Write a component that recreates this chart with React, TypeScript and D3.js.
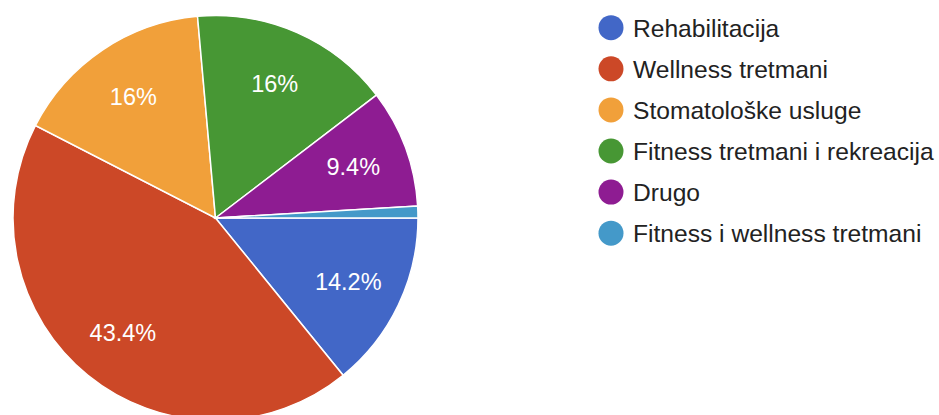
import React from "react";
import * as d3 from "d3";

const categories = [
  "Rehabilitacija",
  "Wellness tretmani",
  "Stomatološke usluge",
  "Fitness tretmani i rekreacija",
  "Drugo",
  "Fitness i wellness tretmani",
];
const counts = [15, 46, 17, 17, 10, 1];
const pctLabels = ["14.2%", "43.4%", "16%", "16%", "9.4%", ""];
const colors = ["#4267c7", "#cc4827", "#f1a03a", "#479734", "#8e1c92", "#4499c9"];

const W = 939;
const H = 415;
const cx = 215.5;
const cy = 218;
const R = 202.5;
const labelR = 147;
const legendX = 611;
const legendY0 = 27.7;
const legendStep = 41.1;

export default function App() {
  const data = categories.map((c, i) => ({ c, v: counts[i], label: pctLabels[i], color: colors[i] }));
  const pie = d3
    .pie<any>()
    .value((d) => d.v)
    .sort(null)
    .startAngle(Math.PI / 2)
    .endAngle(Math.PI / 2 + 2 * Math.PI);
  const arcs = pie(data);
  const arc = d3.arc<any>().innerRadius(0).outerRadius(R);
  const labelArc = d3.arc<any>().innerRadius(labelR).outerRadius(labelR);
  const font = "Arial, 'Liberation Sans', Helvetica, sans-serif";

  return (
    <svg
      width={W}
      height={H}
      style={{ position: "absolute", left: 0, top: 0, background: "#fff" }}
    >
      <g transform={`translate(${cx},${cy})`}>
        {arcs.map((a, i) => (
          <path key={i} d={arc(a) || ""} fill={a.data.color} stroke="#fff" strokeWidth={1.5} />
        ))}
        {arcs.map((a, i) => {
          if (!a.data.label) return null;
          const [x, y] = labelArc.centroid(a);
          return (
            <text
              key={"l" + i}
              x={x}
              y={y}
              dy="0.36em"
              textAnchor="middle"
              fill="#fff"
              fontFamily={font}
              fontSize={23.5}
            >
              {a.data.label}
            </text>
          );
        })}
      </g>
      <g>
        {data.map((d, i) => (
          <g key={"lg" + i} transform={`translate(${legendX},${legendY0 + i * legendStep})`}>
            <circle r={12.5} fill={d.color} />
            <text x={22} dy="0.36em" fill="#222" fontFamily={font} fontSize={24.6}>
              {d.c}
            </text>
          </g>
        ))}
      </g>
    </svg>
  );
}
